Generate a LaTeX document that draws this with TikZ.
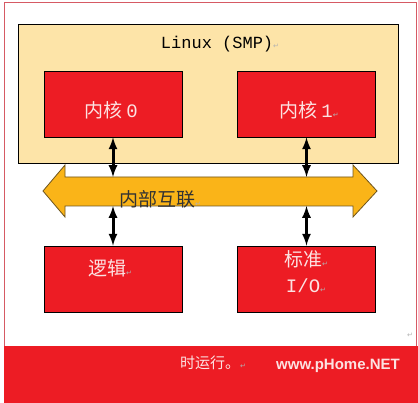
\documentclass[tikz,border=0pt]{standalone}
\usepackage{fontspec}
\setmonofont{Liberation Mono}
\newfontfamily\cjkfont{Noto Sans CJK SC}
\newfontfamily\markfont{DejaVu Sans}
\newfontfamily\wwwfont{Liberation Sans}
\usetikzlibrary{arrows, positioning, calc}
\definecolor{corered}{RGB}{237,28,36}
\definecolor{smppeach}{RGB}{253,228,168}
\definecolor{busorange}{RGB}{250,180,24}
\definecolor{paletext}{RGB}{252,226,226}
\definecolor{framered}{RGB}{214,90,100}
\definecolor{busline}{RGB}{110,85,30}
\newcommand{\retmark}{{\markfont\fontsize{7}{7}\selectfont\textcolor{gray!60}{↵}}}

\begin{document}
\begin{tikzpicture}[x=1pt,y=-1pt,
  corebox/.style={draw=black, line width=0.8pt, fill=corered, minimum width=138pt, minimum height=66pt},
  boxlabel/.style={text=paletext, font=\cjkfont\fontsize{19}{26}\selectfont, align=center, inner sep=0pt},
  link/.style={<->, >=latex, line width=3pt}]
\useasboundingbox (0,0) rectangle (418,403);
% frame and bottom band
\draw[framered, line width=0.6pt] (4,2) rectangle (416,346);
\fill[corered] (4,346) rectangle (418,403);
% Linux (SMP)
\node[draw=black, line width=0.8pt, fill=smppeach, minimum width=380pt, minimum height=139pt] (smp) at (208,93.5) {};
\node[font=\ttfamily\fontsize{17}{20}\selectfont] (title) at (220,44) {Linux (SMP)\retmark};
\node[corebox] (core0) at (113,104) {};
\node[corebox] (core1) at (306.5,104) {};
\node[boxlabel] at (111,110) {内核 \texttt{0}};
\node[boxlabel] at (309,110) {内核 \texttt{1}\retmark};
% bus
\draw[busline, line width=0.8pt, fill=busorange] (43,191) -- (65,165) -- (65,177) -- (353,177) -- (353,165)
  -- (377,191) -- (353,217) -- (353,206) -- (65,206) -- (65,217) -- cycle;
\coordinate (bustop) at (0,177);
\coordinate (busbot) at (0,206);
\node[font=\cjkfont\fontsize{19}{22}\selectfont, text=black!80, inner sep=0pt] (bus) at (160,199) {内部互联\retmark};
% devices
\node[corebox] (logic) at (113,279) {};
\node[corebox] (stdio) at (306.5,279) {};
\node[boxlabel] at (110,268) {逻辑\retmark};
\node[boxlabel] at (306,272) {标准\retmark\\\texttt{I/O}\retmark};
% links
\foreach \n in {core0,core1}{
  \draw[link] (\n.south) -- (\n.south |- bustop);
}
\foreach \n in {logic,stdio}{
  \draw[link] (\n.north |- busbot) -- (\n.north);
}
\node at (410,335) {\retmark};
% band text
\node[text=paletext, font=\cjkfont\fontsize{15}{18}\selectfont] (run) at (213,363) {时运行。\retmark};
\node[text=paletext, font=\wwwfont\bfseries\fontsize{15}{18}\selectfont] (site) at (338,366) {www.pHome.NET};
\end{tikzpicture}
\end{document}
